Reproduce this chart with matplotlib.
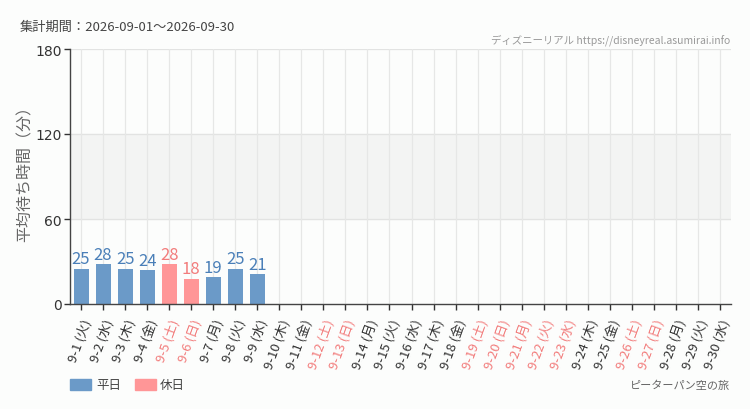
import numpy as np
import matplotlib.pyplot as plt
from matplotlib.patches import Rectangle

plt.rcParams['font.family'] = ['Noto Sans CJK JP', 'DejaVu Sans']

days = list(range(1, 31))
weekdays = ['火', '水', '木', '金', '土', '日', '月'] * 5
holidays = [5, 6, 12, 13, 19, 20, 21, 22, 23, 26, 27]
wait_min = [25, 28, 25, 24, 28, 18, 19, 25, 21]
y_ticks = [0, 60, 120, 180]

BLUE, PINK = '#6b9ac8', '#ff9697'
BLUE_TXT, PINK_TXT = '#4a7fb8', '#f27c7c'
BG = '#fcfdfc'
NARROW = ['DejaVu Sans Condensed', 'Noto Sans CJK JP', 'DejaVu Sans']

fig = plt.figure(figsize=(7.5, 4.1), dpi=100, facecolor=BG)
ax = fig.add_axes([70 / 750, 1 - 305 / 410, 661 / 750, 255 / 410])
ax.set_facecolor(BG)

x = np.arange(len(days))
ax.set_xlim(-0.5, len(days) - 0.5)
ax.set_ylim(0, 180)

ax.axhspan(60, 120, color='#f3f4f3', zorder=0)
for yv in y_ticks[1:]:
    ax.axhline(yv, color='#e2e3e2', lw=0.9, zorder=1)
for xv in x:
    ax.axvline(xv, color='#e6e7e6', lw=0.9, zorder=1)

for i, v in enumerate(wait_min):
    hol = days[i] in holidays
    ax.bar(x[i], v, width=0.68, color=PINK if hol else BLUE, zorder=2)
    ax.text(x[i], v + 1.0, str(v), ha='center', va='bottom', fontsize=12,
            color=PINK_TXT if hol else BLUE_TXT, family=NARROW, zorder=3)

for s in ['top', 'right']:
    ax.spines[s].set_visible(False)
for s in ['left', 'bottom']:
    ax.spines[s].set_color('#444444')
    ax.spines[s].set_linewidth(1.0)

ax.set_yticks(y_ticks)
ax.set_yticklabels([str(t) for t in y_ticks], fontsize=10, color='#333333',
                   family=['DejaVu Sans'])
ax.tick_params(axis='y', length=4, width=1, color='#333333', pad=2)

ax.set_xticks(x)
labels = [f'9-{d} ({w})' for d, w in zip(days, weekdays)]
ax.set_xticklabels(labels, rotation=70, ha='right', rotation_mode='anchor',
                   fontsize=9.5, family=NARROW)
for lbl, d in zip(ax.get_xticklabels(), days):
    lbl.set_color(PINK_TXT if d in holidays else '#333333')
ax.tick_params(axis='x', length=4, width=1, color='#333333', pad=5)

ax.set_ylabel('平均待ち時間（分）', fontsize=11.5, color='#666666')
ax.yaxis.set_label_coords(-36 / 661, 0.53)

fig.text(20 / 750, 1 - 27 / 410, '集計期間：2026-09-01～2026-09-30',
         fontsize=9.5, color='#444444', va='center')
fig.text(730 / 750, 1 - 40 / 410, 'ディズニーリアル https://disneyreal.asumirai.info',
         fontsize=7.5, color='#999999', ha='right', va='center', family=NARROW)
fig.text(730 / 750, 1 - 386 / 410, 'ピーターパン空の旅',
         fontsize=8, color='#666666', ha='right', va='center')

fig.patches.append(Rectangle((70 / 750, 1 - 391 / 410), 21 / 750, 11 / 410,
                             transform=fig.transFigure, color=BLUE))
fig.text(96 / 750, 1 - 386 / 410, '平日', fontsize=9, color='#444444', va='center')
fig.patches.append(Rectangle((135 / 750, 1 - 391 / 410), 21 / 750, 11 / 410,
                             transform=fig.transFigure, color=PINK))
fig.text(160 / 750, 1 - 386 / 410, '休日', fontsize=9, color='#444444', va='center')

fig.savefig('out.png', dpi=100, facecolor=BG)
